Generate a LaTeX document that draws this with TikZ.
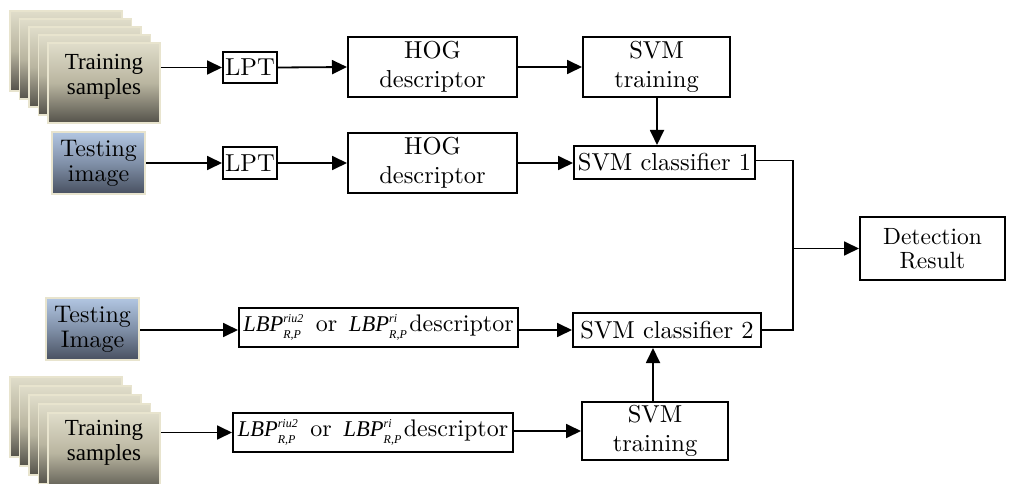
\documentclass[tikz,border=0pt]{standalone}
\usepackage{fontspec}
\setmainfont{lmroman10-regular}[Extension=.otf, ItalicFont=lmroman10-italic]
\newfontfamily\tnr{Liberation Serif}
\usetikzlibrary{arrows.meta,calc}
\definecolor{beige}{RGB}{232,228,206}
\definecolor{cardtop}{RGB}{224,221,202}
\definecolor{cardmid}{RGB}{185,181,160}
\definecolor{cardbot}{RGB}{84,82,74}
\definecolor{imgtop}{RGB}{178,198,226}
\definecolor{imgmid}{RGB}{128,144,168}
\definecolor{imgbot}{RGB}{72,80,96}
\newcommand\lbpsym[1]{{\tnr\itshape\fontsize{22.5}{24}\selectfont LBP}$^{\mbox{\fontsize{12}{12}\selectfont\tnr\itshape #1}}_{\mbox{\fontsize{12}{12}\selectfont\tnr\itshape R,P}}$}
\tikzset{
  box/.style={draw=black, line width=2pt, fill=white, inner sep=0pt, align=center,
    font=\fontsize{24.5}{29}\selectfont},
  conn/.style={line width=1.8pt, -{Triangle[length=15pt,width=14pt]}},
  plain/.style={line width=1.8pt},
  card/.style={draw=beige, line width=1.5pt, top color=cardtop, bottom color=cardbot,
    middle color=cardmid, minimum width=112pt, minimum height=80pt, inner sep=0pt},
  imgbox/.style={draw=beige, line width=2.5pt, top color=imgtop, bottom color=imgbot,
    middle color=imgmid, minimum width=93pt, minimum height=62pt, inner sep=0pt,
    align=center, font=\fontsize{24}{25}\selectfont},
  cardtext/.style={align=center, inner sep=0pt, font=\tnr\fontsize{23}{25}\selectfont}
}
\begin{document}
\begin{tikzpicture}[x=1pt,y=-1pt]
\useasboundingbox (0,0) rectangle (1017,484);
% top training stack
\foreach \i in {0,...,4}{
  \node[card] (ta\i) at ({66+9.5*\i},{51+8*\i}) {};
}
\node[cardtext] (tat) at (104,77) {Training\\samples};
% bottom training stack
\foreach \i in {0,...,4}{
  \node[card] (tb\i) at ({66+9.5*\i},{417+9*\i}) {};
}
\node[cardtext] (tbt) at (104,443) {Training\\samples};
% testing images
\node[imgbox] (ti1) at (98.5,163) {Testing\\image};
\node[imgbox] (ti2) at (92.5,329) {Testing\\Image};
% row 1
\node[box, minimum width=54pt, minimum height=31pt] (lpt1) at (250,67.5) {LPT};
\node[box, minimum width=169pt, minimum height=60pt] (hog1) at (432.5,67) {HOG\\descriptor};
\node[box, minimum width=147pt, minimum height=60pt] (svt1) at (656.5,67) {SVM\\training};
% row 2
\node[box, minimum width=54pt, minimum height=32pt] (lpt2) at (250,163) {LPT};
\node[box, minimum width=169pt, minimum height=60pt] (hog2) at (432.5,163) {HOG\\descriptor};
\node[box, minimum width=181pt, minimum height=33pt] (cls1) at (664.5,162.5) {SVM classifier 1};
% row 3
\node[box, minimum width=279pt, minimum height=39pt, font=\fontsize{24}{28}\selectfont] (lbp1) at (378.5,327.5)
  {\lbpsym{riu2}\hspace{12pt}or\hspace{12pt}\lbpsym{ri}\hspace{2pt}descriptor};
\node[box, minimum width=188pt, minimum height=34pt] (cls2) at (667,330) {SVM classifier 2};
% row 4
\node[box, minimum width=280pt, minimum height=39pt, font=\fontsize{24}{28}\selectfont] (lbp2) at (373,432.5)
  {\lbpsym{riu2}\hspace{12pt}or\hspace{12pt}\lbpsym{ri}\hspace{2pt}descriptor};
\node[box, minimum width=146pt, minimum height=58pt] (svt2) at (655,431) {SVM\\training};
% result
\node[box, minimum width=145pt, minimum height=63pt, font=\fontsize{23.5}{24.5}\selectfont] (det) at (932.5,248.5) {Detection\\Result};
\coordinate (j) at (793,248.5);
% connectors
\draw[conn] (ta4.east |- lpt1.west) -- (lpt1.west);
\draw[conn] (lpt1.east) -- (hog1.west);
\draw[conn] (hog1.east) -- (svt1.west);
\draw[conn] (ti1.east |- lpt2.west) -- (lpt2.west);
\draw[conn] (lpt2.east) -- (hog2.west);
\draw[conn] (hog2.east) -- (hog2.east -| cls1.west);
\draw[conn] ([xshift=0.5pt]svt1.south) -- ([xshift=0.5pt]svt1.south |- cls1.north);
\draw[conn] (ti2.east |- cls2.west) -- (cls2.west -| lbp1.west);
\draw[conn] (lbp1.east |- cls2.west) -- (cls2.west);
\draw[conn] (tb4.east |- lbp2.west) -- (lbp2.west);
\draw[conn] (lbp2.east |- svt2.west) -- (svt2.west);
\draw[conn] ([xshift=-2pt]svt2.north) -- ([xshift=-2pt]svt2.north |- cls2.south);
\draw[plain] ([yshift=2pt]cls1.east) -| (j) |- (cls2.east);
\draw[conn] (j) -- (det.west);
\end{tikzpicture}
\end{document}
